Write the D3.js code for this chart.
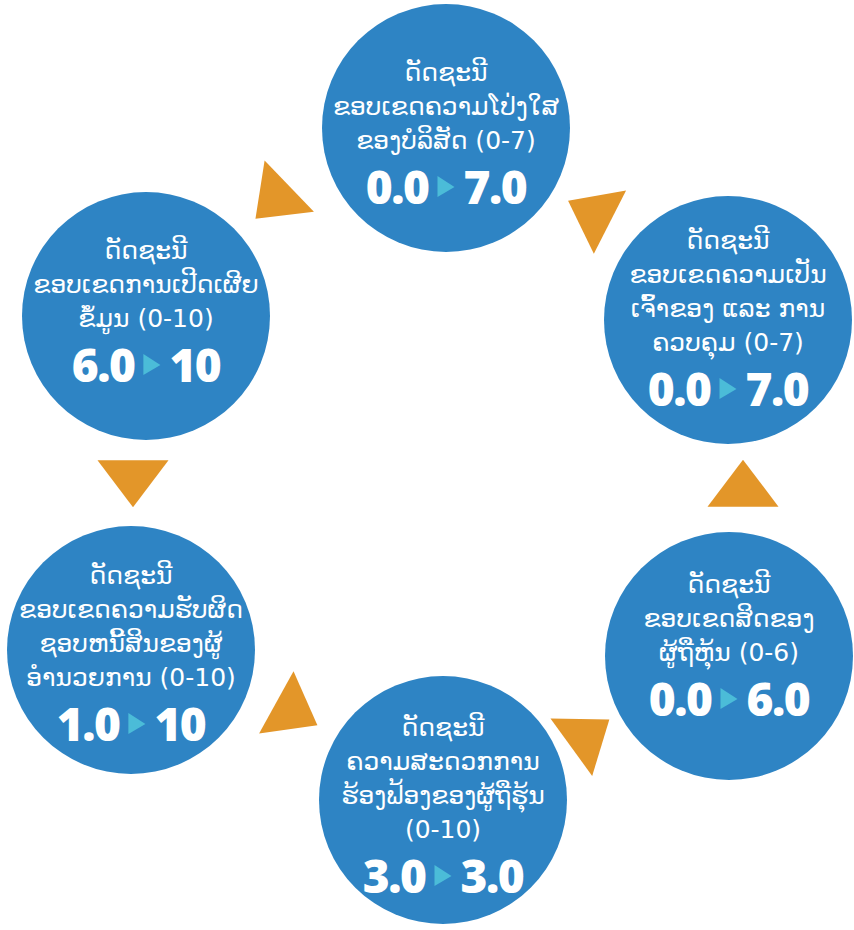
<!DOCTYPE html>
<meta charset="utf-8">
<style>
    body { margin: 0; background: #fff; }
    .title { fill: #fff; font-family: "DejaVu Sans", sans-serif; font-size: 25px; text-anchor: middle; dominant-baseline: central; }
    .score { fill: #fff; font-family: "Open Sans", "Noto Sans", sans-serif; font-weight: 800; font-size: 46px; dominant-baseline: central; letter-spacing: -1.5px; }
</style>
<body></body>
<script src="https://d3js.org/d3.v7.min.js"></script>
<script>
    // indicator titles (one entry per circle, lines as shown)
    var titles = [
        ["ດັດຊະນີ", "ຂອບເຂດຄວາມໂປ່ງໃສ", "ຂອງບໍລິສັດ (0-7)"],
        ["ດັດຊະນີ", "ຂອບເຂດຄວາມເປັນ", "ເຈົ້າຂອງ ແລະ ການ", "ຄວບຄຸມ (0-7)"],
        ["ດັດຊະນີ", "ຂອບເຂດສິດຂອງ", "ຜູ້ຖືຫຸ້ນ (0-6)"],
        ["ດັດຊະນີ", "ຄວາມສະດວກການ", "ຮ້ອງຟ້ອງຂອງຜູ້ຖືຮຸ້ນ", "(0-10)"],
        ["ດັດຊະນີ", "ຂອບເຂດຄວາມຮັບຜິດ", "ຊອບຫນີ້ສິນຂອງຜູ້", "ອຳນວຍການ (0-10)"],
        ["ດັດຊະນີ", "ຂອບເຂດການເປີດເຜີຍ", "ຂໍ້ມູນ (0-10)"]
    ];
    var fromValues = ["0.0", "0.0", "0.0", "3.0", "1.0", "6.0"];
    var toValues   = ["7.0", "7.0", "6.0", "3.0", "10", "10"];

    // layout of the circles (centre, text shift) and the connecting arrows
    var nodeLayout = [
        {x: 446, y: 128, dy: 5},
        {x: 728, y: 320, dy: -2},
        {x: 729, y: 656, dy: -11},
        {x: 443, y: 800, dy: 5},
        {x: 131, y: 650, dy: 3},
        {x: 146, y: 316, dy: -5}
    ];
    var arrowLayout = [
        {x: 278, y: 197, angle: 136},
        {x: 596, y: 215, angle: -153},
        {x: 743, y: 491, angle: -90},
        {x: 584, y: 738, angle: -36},
        {x: 290, y: 710, angle: 29},
        {x: 133, y: 476, angle: 90}
    ];

    var width = 854, height = 930, r = 124;
    var lineStep = 34, scoreGap = 46;

    var svg = d3.select("body").append("svg")
        .attr("width", width)
        .attr("height", height);

    // orange arrows between circles
    var tri = 47; // triangle height, base is 71
    var triPath = d3.line()([[tri * 2 / 3, 0], [-tri / 3, -35.5], [-tri / 3, 35.5]]) + "Z";
    svg.selectAll(".arrow")
        .data(arrowLayout)
        .enter().append("path")
        .attr("class", "arrow")
        .attr("d", triPath)
        .attr("fill", "#e39629")
        .attr("transform", d => "translate(" + d.x + "," + d.y + ") rotate(" + d.angle + ")");

    var nodes = svg.selectAll(".node")
        .data(titles)
        .enter().append("g")
        .attr("class", "node")
        .attr("transform", (d, i) => "translate(" + nodeLayout[i].x + "," + nodeLayout[i].y + ")");

    nodes.append("circle")
        .attr("r", r)
        .attr("fill", "#2e84c4");

    nodes.each(function (lines, i) {
        var g = d3.select(this);
        var total = (lines.length - 1) * lineStep + scoreGap;
        var top = -total / 2 - 4 + nodeLayout[i].dy;

        g.selectAll(".title")
            .data(lines)
            .enter().append("text")
            .attr("class", "title")
            .attr("y", (d, j) => top + j * lineStep)
            .text(d => d);

        var sy = top + (lines.length - 1) * lineStep + scoreGap;
        var left = g.append("text").attr("class", "score").attr("y", sy).text(fromValues[i]);
        var right = g.append("text").attr("class", "score").attr("y", sy).text(toValues[i]);
        var lw = left.node().getComputedTextLength();
        var rw = right.node().getComputedTextLength();
        var gap = 9, aw = 17;
        var full = lw + gap + aw + gap + rw;
        var x0 = -full / 2;
        left.attr("x", x0);
        var ax = x0 + lw + gap;
        g.append("path")
            .attr("d", d3.line()([[ax, sy - 10], [ax + aw, sy + 1], [ax, sy + 11]]) + "Z")
            .attr("fill", "#4bbcd8");
        right.attr("x", ax + aw + gap);
    });
</script>
